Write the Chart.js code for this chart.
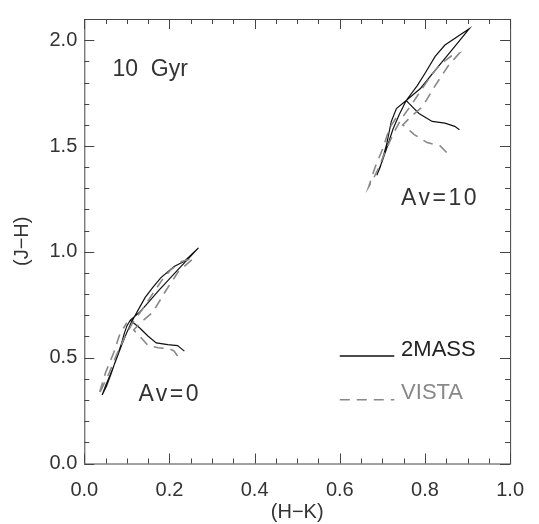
<!DOCTYPE html>
<html>
<head>
<meta charset="utf-8">
<script src="https://cdn.jsdelivr.net/npm/chart.js@4.4.0/dist/chart.umd.min.js"></script>
<style>
  html, body { margin: 0; padding: 0; background: #fff; }
  #wrap { width: 539px; height: 524px; }
</style>
</head>
<body>
<div id="wrap"><canvas id="ccd" width="539" height="524"></canvas></div>
<script>
// 10 Gyr isochrone in the (H-K, J-H) plane, 2MASS vs VISTA, Av = 0 and Av = 10

// tick labels
const xTicks = [0.0, 0.2, 0.4, 0.6, 0.8, 1.0];
const yTicks = [0.0, 0.5, 1.0, 1.5, 2.0];

// Av = 0, 2MASS
const hk0m = [0.235, 0.219, 0.196, 0.169, 0.150, 0.131, 0.108,
  0.130, 0.150, 0.175, 0.200, 0.225, 0.250, 0.268,
  0.247, 0.234, 0.211, 0.180, 0.160, 0.143, 0.125, 0.110, 0.098, 0.086, 0.073, 0.060, 0.050, 0.042,
  0.052, 0.064, 0.076, 0.087, 0.094, 0.100, 0.108];
const jh0m = [0.531, 0.557, 0.562, 0.570, 0.601, 0.639, 0.677,
  0.715, 0.760, 0.818, 0.872, 0.927, 0.980, 1.019,
  0.978, 0.954, 0.931, 0.878, 0.830, 0.785, 0.720, 0.665, 0.610, 0.550, 0.480, 0.415, 0.368, 0.324,
  0.365, 0.430, 0.500, 0.565, 0.615, 0.650, 0.677];

// Av = 0, VISTA
const hk0v = [0.219, 0.211, 0.200, 0.173, 0.150, 0.133, 0.116,
  0.134, 0.161, 0.191, 0.221, 0.257,
  0.229, 0.203, 0.182, 0.160, 0.137, 0.112, 0.092, 0.075, 0.059, 0.047, 0.034,
  0.050, 0.069, 0.084, 0.100];
const jh0v = [0.508, 0.531, 0.542, 0.547, 0.557, 0.595, 0.631,
  0.669, 0.715, 0.815, 0.907, 0.970,
  0.955, 0.915, 0.865, 0.800, 0.730, 0.660, 0.585, 0.510, 0.430, 0.380, 0.324,
  0.430, 0.523, 0.615, 0.665];

// Av = 10, 2MASS
const hk10m = [0.881, 0.870, 0.847, 0.817, 0.786, 0.763, 0.756,
  0.790, 0.820, 0.850, 0.878, 0.904,
  0.847, 0.824, 0.801, 0.782, 0.756, 0.740, 0.725, 0.712, 0.700, 0.687,
  0.695, 0.710, 0.721, 0.733, 0.756];
const jh10m = [1.577, 1.593, 1.608, 1.616, 1.654, 1.700, 1.715,
  1.773, 1.848, 1.921, 1.990, 2.054,
  1.977, 1.923, 1.846, 1.785, 1.715, 1.650, 1.580, 1.500, 1.430, 1.362,
  1.400, 1.508, 1.616, 1.677, 1.715];

// Av = 10, VISTA
const hk10v = [0.851, 0.836, 0.805, 0.775, 0.748,
  0.767, 0.794, 0.824, 0.854, 0.881,
  0.862, 0.836, 0.815, 0.793, 0.770, 0.745, 0.725, 0.708, 0.692, 0.680, 0.668,
  0.683, 0.702, 0.717, 0.733];
const jh10v = [1.469, 1.500, 1.516, 1.554, 1.600,
  1.639, 1.685, 1.785, 1.877, 1.939,
  1.925, 1.885, 1.835, 1.770, 1.700, 1.630, 1.555, 1.480, 1.400, 1.350, 1.308,
  1.400, 1.493, 1.585, 1.635];

const FONT = '"Liberation Sans", Arial, sans-serif';
const SOLID = "#111";
const GREY = "#888";
const DASH = [10, 7];

const pts = (xs, ys) => xs.map((x, i) => ({ x, y: ys[i] }));

const line2mass = (data) => ({
  data, showLine: true, pointRadius: 0, borderColor: SOLID,
  borderWidth: 1.2, tension: 0, fill: false,
});
const lineVista = (data) => ({
  data, showLine: true, pointRadius: 0, borderColor: GREY,
  borderWidth: 1.6, borderDash: DASH, tension: 0, fill: false,
});

// box with inward ticks on all four sides, labels and legend
const frame = {
  id: "frame",
  afterDraw(chart) {
    const { ctx, chartArea: a, scales: { x, y } } = chart;
    ctx.save();
    ctx.strokeStyle = "#444";
    ctx.lineWidth = 1;
    ctx.strokeRect(a.left + 0.5, a.top + 0.5, a.right - a.left, a.bottom - a.top);

    ctx.beginPath();
    for (let i = 0; i <= 20; i++) {
      const v = i * 0.05;
      const px = Math.round(x.getPixelForValue(v)) + 0.5;
      const len = i % 4 === 0 ? 10 : 5;
      ctx.moveTo(px, a.bottom); ctx.lineTo(px, a.bottom - len);
      ctx.moveTo(px, a.top); ctx.lineTo(px, a.top + len);
    }
    for (let i = 0; i <= 21; i++) {
      const v = i * 0.1;
      const py = Math.round(y.getPixelForValue(v)) + 0.5;
      const len = i % 5 === 0 ? 10 : 5;
      ctx.moveTo(a.left, py); ctx.lineTo(a.left + len, py);
      ctx.moveTo(a.right, py); ctx.lineTo(a.right - len, py);
    }
    ctx.stroke();

    // text labels
    ctx.font = `23px ${FONT}`;
    ctx.textBaseline = "alphabetic";
    ctx.fillStyle = "#333";
    ctx.fillText("10  Gyr", x.getPixelForValue(0.066), y.getPixelForValue(1.831));
    ctx.letterSpacing = "2.5px";
    ctx.fillText("Av=0", x.getPixelForValue(0.127), y.getPixelForValue(0.296));
    ctx.fillText("Av=10", x.getPixelForValue(0.744), y.getPixelForValue(1.219));
    ctx.letterSpacing = "0px";

    // legend
    ctx.font = `22px ${FONT}`;
    const lx0 = x.getPixelForValue(0.600), lx1 = x.getPixelForValue(0.728);
    let ly = y.getPixelForValue(0.508);
    ctx.strokeStyle = SOLID;
    ctx.lineWidth = 1.6;
    ctx.beginPath(); ctx.moveTo(lx0, ly); ctx.lineTo(lx1, ly); ctx.stroke();
    ctx.fillStyle = "#222";
    ctx.fillText("2MASS", x.getPixelForValue(0.744), ly);

    ly = y.getPixelForValue(0.301);
    ctx.strokeStyle = GREY;
    ctx.setLineDash(DASH);
    ctx.beginPath(); ctx.moveTo(lx0, ly); ctx.lineTo(lx1, ly); ctx.stroke();
    ctx.setLineDash([]);
    ctx.fillStyle = GREY;
    ctx.fillText("VISTA", x.getPixelForValue(0.744), y.getPixelForValue(0.305));
    ctx.restore();
  },
};

new Chart(document.getElementById("ccd"), {
  type: "scatter",
  data: {
    datasets: [
      lineVista(pts(hk0v, jh0v)),
      lineVista(pts(hk10v, jh10v)),
      line2mass(pts(hk0m, jh0m)),
      line2mass(pts(hk10m, jh10m)),
    ],
  },
  options: {
    responsive: false,
    animation: false,
    devicePixelRatio: 1,
    layout: { padding: { top: 9, right: 17, left: 0, bottom: 0 } },
    plugins: { legend: { display: false }, tooltip: { enabled: false } },
    scales: {
      x: {
        type: "linear", min: 0, max: 1,
        grid: { display: false, drawTicks: false },
        border: { display: false },
        afterBuildTicks: (s) => { s.ticks = xTicks.map((v) => ({ value: v })); },
        afterFit: (s) => { s.height = 60.5; },
        ticks: {
          autoSkip: false, maxRotation: 0, padding: 15, color: "#333",
          font: { family: FONT, size: 20 },
          callback: (v) => Number(v).toFixed(1),
        },
        title: {
          display: true, text: "(H−K)", color: "#333",
          font: { family: FONT, size: 20 }, padding: { top: 0, bottom: 0 },
        },
      },
      y: {
        type: "linear", min: 0, max: 2.1,
        grid: { display: false, drawTicks: false },
        border: { display: false },
        afterBuildTicks: (s) => { s.ticks = yTicks.map((v) => ({ value: v })); },
        afterFit: (s) => { s.width = 84.3; },
        ticks: {
          autoSkip: false, padding: 7, color: "#333",
          font: { family: FONT, size: 20 },
          callback: (v) => Number(v).toFixed(1),
        },
        title: {
          display: true, text: "(J−H)", color: "#333",
          font: { family: FONT, size: 20 }, padding: { top: 10, bottom: 0 },
        },
      },
    },
  },
  plugins: [frame],
});
</script>
</body>
</html>
